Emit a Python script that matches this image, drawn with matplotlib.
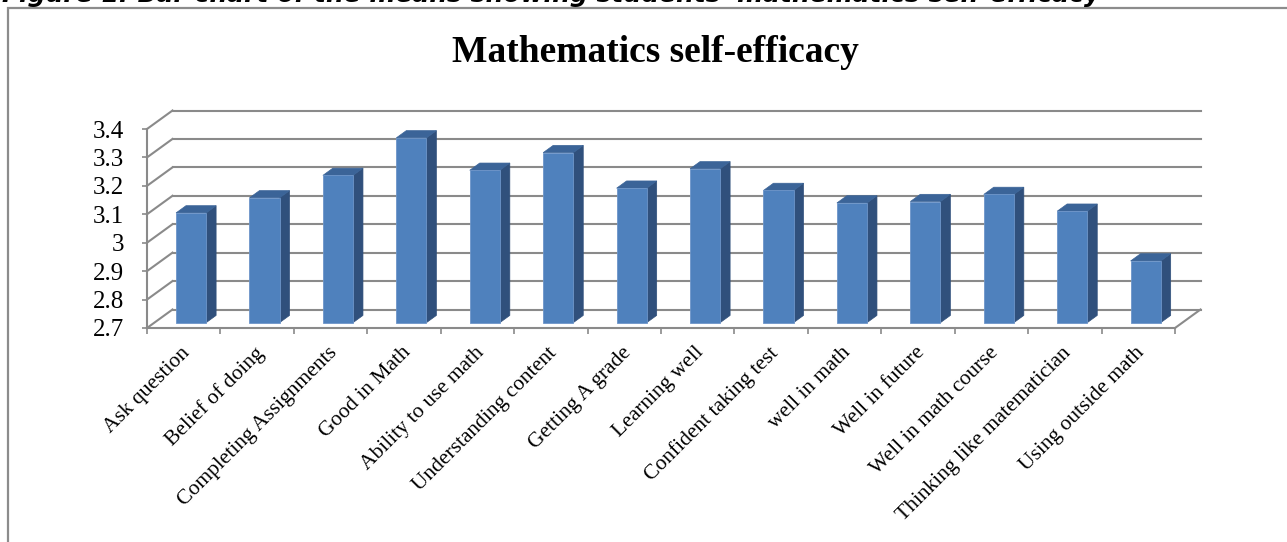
import matplotlib
matplotlib.use('Agg')
import matplotlib.pyplot as plt
from matplotlib.patches import Rectangle, Polygon
import matplotlib.transforms as mtransforms
import numpy as np

categories = ['Ask question', 'Belief of doing', 'Completing Assignments', 'Good in Math',
              'Ability to use math', 'Understanding content', 'Getting A grade', 'Learning well',
              'Confident taking test', 'well in math', 'Well in future', 'Well in math course',
              'Thinking like matematician', 'Using outside math']
means = [3.086, 3.139, 3.218, 3.350, 3.236, 3.298, 3.173, 3.241, 3.165, 3.121, 3.126, 3.151, 3.092, 2.917]
y_ticks = [2.7, 2.8, 2.9, 3.0, 3.1, 3.2, 3.3, 3.4]
y_labels = ['2.7', '2.8', '2.9', '3', '3.1', '3.2', '3.3', '3.4']

title = 'Mathematics self-efficacy'
header = "Figure 1: Bar chart of the means showing students' mathematics self-efficacy"

W, H = 1287, 542
fig = plt.figure(figsize=(W / 100, H / 100), dpi=100)

# chart frame (only top and left edges are inside the picture)
fig.add_artist(Rectangle((7.5 / W, -0.2), 1.5, 1.2 - 7.5 / H, transform=fig.transFigure,
                         fill=False, edgecolor='#8c8c8c', linewidth=1.6))
fig.text(2 / W, 1 - 2 / H, header, fontsize=18, fontweight='bold', style='italic',
         family='DejaVu Sans', va='baseline', ha='left')
fig.text(655 / W, 1 - 52 / H, title, fontsize=27, fontweight='bold',
         family='Liberation Serif', ha='center', va='center')

ax = fig.add_axes([147 / W, 1 - 328 / H, (1175 - 147) / W, (328 - 129) / H])
n = len(categories)
ax.set_xlim(0, n)
ax.set_ylim(y_ticks[0], y_ticks[-1])
ax.patch.set_visible(False)

# oblique depth in pixels -> data units
depth_px = (25.5, 18.5)
px_x = (1175 - 147) / n
px_y = (328 - 129) / (y_ticks[-1] - y_ticks[0])
ddx = depth_px[0] / px_x
ddy = depth_px[1] / px_y

grid_c = '#8a8a8a'
base = y_ticks[0]

# back wall gridlines + left wall diagonals
for yv in y_ticks:
    ax.plot([ddx, n + ddx], [yv + ddy, yv + ddy], color=grid_c, lw=1.5, clip_on=False, zorder=1)
    ax.plot([0, ddx], [yv, yv + ddy], color=grid_c, lw=1.5, clip_on=False, zorder=1)
# floor right edge
ax.plot([n, n + ddx], [base, base + ddy], color=grid_c, lw=1.5, clip_on=False, zorder=1)

# bars
f0, f1 = 0.29, 0.68
bw = 0.41
x = np.arange(n) + 0.5
front_x = x + f0 * ddx
front_b = base + f0 * ddy
ax.bar(front_x, np.array(means) - base, bottom=front_b, width=bw, color='#4f81bd',
       edgecolor='#6d95c9', linewidth=0.6, zorder=3, clip_on=False)
sx = (f1 - f0) * ddx
sy = (f1 - f0) * ddy
for xc, v in zip(front_x, means):
    x1 = xc + bw / 2
    x0 = xc - bw / 2
    vt = v + f0 * ddy
    side = Polygon([(x1, front_b), (x1, vt), (x1 + sx, vt + sy), (x1 + sx, front_b + sy)],
                   closed=True, facecolor='#30507c', edgecolor='#30507c', lw=0.5, zorder=2.9, clip_on=False)
    top = Polygon([(x0, vt), (x1, vt), (x1 + sx, vt + sy), (x0 + sx, vt + sy)],
                  closed=True, facecolor='#3b6498', edgecolor='#3b6498', lw=0.5, zorder=2.9, clip_on=False)
    ax.add_patch(side)
    ax.add_patch(top)

for s in ['top', 'right']:
    ax.spines[s].set_visible(False)
for s in ['left', 'bottom']:
    ax.spines[s].set_color(grid_c)
    ax.spines[s].set_linewidth(1.5)

ax.set_yticks(y_ticks)
ax.set_yticklabels(y_labels, fontsize=18, family='Liberation Serif')
ax.tick_params(axis='y', length=3.5, color=grid_c, width=1.2, pad=13)

ax.set_xticks(np.arange(n + 1))
ax.set_xticklabels([])
ax.tick_params(axis='x', which='major', length=4.5, color=grid_c, width=1.2)
ax.set_xticks(x, minor=True)
ax.set_xticklabels(categories, minor=True, rotation=45, ha='right', rotation_mode='anchor',
                   fontsize=15.5, family='Liberation Serif')
ax.tick_params(axis='x', which='minor', length=0, pad=11)
shift = mtransforms.ScaledTranslation(-3 / 100, 0, fig.dpi_scale_trans)
for lab in ax.get_xticklabels(minor=True):
    lab.set_transform(lab.get_transform() + shift)

fig.savefig('out.png', dpi=100)
